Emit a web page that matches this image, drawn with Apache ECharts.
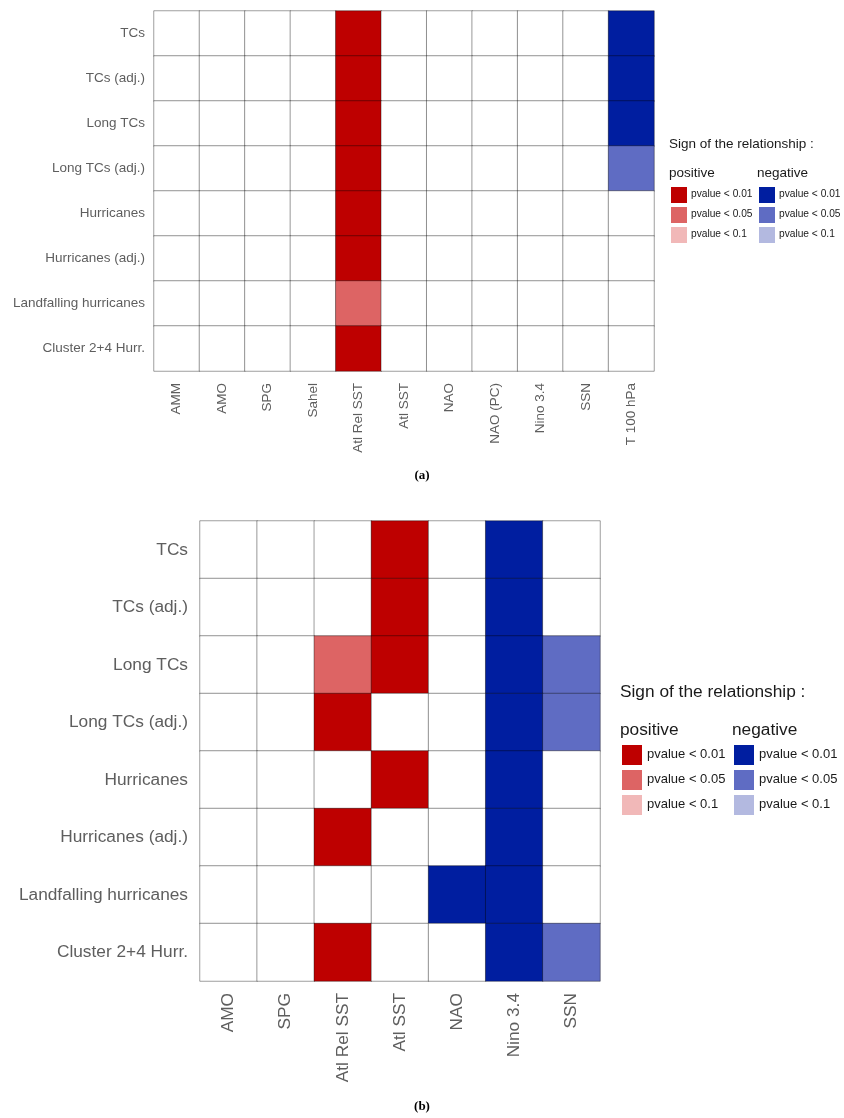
<!DOCTYPE html>
<html><head><meta charset="utf-8">
<script src="https://cdn.jsdelivr.net/npm/echarts@6/dist/echarts.min.js"></script>
<style>html,body{margin:0;padding:0;background:#fff}#c{width:844px;height:1118px}</style>
</head><body><div id="c"></div>
<script>
// codes: 1 = positive p<0.01, 2 = positive p<0.05, 3 = positive p<0.1,
// -1/-2/-3 = negative with same p thresholds, 0 = none
var rows = ["TCs","TCs (adj.)","Long TCs","Long TCs (adj.)","Hurricanes","Hurricanes (adj.)","Landfalling hurricanes","Cluster 2+4 Hurr."];
var colsA = ["AMM","AMO","SPG","Sahel","Atl Rel SST","Atl SST","NAO","NAO (PC)","Nino 3.4","SSN","T 100 hPa"];
var colsB = ["AMO","SPG","Atl Rel SST","Atl SST","NAO","Nino 3.4","SSN"];
// one array per row, values in column order
var valuesA = [
  [0,0,0,0,1,0,0,0,0,0,-1],
  [0,0,0,0,1,0,0,0,0,0,-1],
  [0,0,0,0,1,0,0,0,0,0,-1],
  [0,0,0,0,1,0,0,0,0,0,-2],
  [0,0,0,0,1,0,0,0,0,0,0],
  [0,0,0,0,1,0,0,0,0,0,0],
  [0,0,0,0,2,0,0,0,0,0,0],
  [0,0,0,0,1,0,0,0,0,0,0]
];
var valuesB = [
  [0,0,0,1,0,-1,0],
  [0,0,0,1,0,-1,0],
  [0,0,2,1,0,-1,-2],
  [0,0,1,0,0,-1,-2],
  [0,0,0,1,0,-1,0],
  [0,0,1,0,0,-1,0],
  [0,0,0,0,-1,-1,0],
  [0,0,1,0,0,-1,-2]
];
var legendLabels = ["pvalue < 0.01","pvalue < 0.05","pvalue < 0.1"];
var posColors = ["#BE0000","#DD6464","#F1B8B8"];
var negColors = ["#001EA0","#5F6CC3","#B3B9E0"];

function toData(vals){
  var d=[];
  vals.forEach(function(r,i){ r.forEach(function(v,j){ d.push([j,i,v]); }); });
  return d;
}
var pieces = [{value:0,color:"#ffffff"}];
for (var k=0;k<3;k++){ pieces.push({value:k+1,color:posColors[k]}); pieces.push({value:-(k+1),color:negColors[k]}); }

var FONT = "Liberation Sans, Arial, sans-serif";

function legendGraphic(x, y, s){
  var g = [];
  g.push({type:'text', left:x, top:y, style:{text:"Sign of the relationship :", font: s.title+"px "+FONT, fill:"#1a1a1a"}});
  g.push({type:'text', left:x, top:y+s.headDy, style:{text:"positive", font: s.head+"px "+FONT, fill:"#1a1a1a"}});
  g.push({type:'text', left:x+s.colDx, top:y+s.headDy, style:{text:"negative", font: s.head+"px "+FONT, fill:"#1a1a1a"}});
  for (var i=0;i<3;i++){
    var yy = y + s.boxDy + i*s.step;
    g.push({type:'rect', left:x+s.boxOff, top:yy, shape:{width:s.box,height:s.box}, style:{fill:posColors[i]}});
    g.push({type:'text', left:x+s.boxOff+s.box+s.txtGap, top:yy+(s.box-s.lab)/2-1, style:{text:legendLabels[i], font: s.lab+"px "+FONT, fill:"#1a1a1a"}});
    g.push({type:'rect', left:x+s.colDx+s.boxOff, top:yy, shape:{width:s.box,height:s.box}, style:{fill:negColors[i]}});
    g.push({type:'text', left:x+s.colDx+s.boxOff+s.box+s.txtGap, top:yy+(s.box-s.lab)/2-1, style:{text:legendLabels[i], font: s.lab+"px "+FONT, fill:"#1a1a1a"}});
  }
  return g;
}

var graphics = []
  .concat(legendGraphic(669, 137, {title:13.5, head:13.5, headDy:29, colDx:88, boxOff:2, box:16, boxDy:50, step:20, lab:10.2, txtGap:4}))
  .concat(legendGraphic(620, 684, {title:17.3, head:17.3, headDy:38, colDx:112, boxOff:2, box:20, boxDy:61, step:25, lab:13, txtGap:5}));
graphics.push({type:'text', left:'center', top:469, style:{text:"(a)", font:"bold 13px Liberation Serif, DejaVu Serif, serif", fill:"#000"}});
graphics.push({type:'text', left:'center', top:1100, style:{text:"(b)", font:"bold 13px Liberation Serif, DejaVu Serif, serif", fill:"#000"}});

function xAx(idx, cats, fs, margin){
  return {type:'category', gridIndex:idx, data:cats, position:'bottom',
    axisLine:{show:false}, axisTick:{show:false},
    axisLabel:{rotate:90, fontSize:fs, color:"#5e5e5e", fontFamily:FONT, margin:margin, interval:0},
    splitLine:{show:false}};
}
function yAx(idx, fs, margin){
  return {type:'category', gridIndex:idx, data:rows, inverse:true,
    axisLine:{show:false}, axisTick:{show:false},
    axisLabel:{fontSize:fs, color:"#5e5e5e", fontFamily:FONT, margin:margin, interval:0},
    splitLine:{show:false}};
}

var chart = echarts.init(document.getElementById('c'), null, {renderer:'canvas'});
chart.setOption({
  animation:false,
  backgroundColor:'#fff',
  grid:[
    {left:154, top:11, width:500, height:360},
    {left:200, top:521, width:400, height:460}
  ],
  xAxis:[xAx(0, colsA, 13.5, 12), xAx(1, colsB, 17.3, 12)],
  yAxis:[yAx(0, 13.5, 9), yAx(1, 17.3, 12)],
  visualMap:[
    {type:'piecewise', show:false, seriesIndex:0, dimension:2, pieces:pieces},
    {type:'piecewise', show:false, seriesIndex:1, dimension:2, pieces:pieces}
  ],
  series:[
    {type:'heatmap', xAxisIndex:0, yAxisIndex:0, data:toData(valuesA),
      itemStyle:{borderColor:'rgba(0,0,0,0.55)', borderWidth:0.7}, emphasis:{disabled:true}},
    {type:'heatmap', xAxisIndex:1, yAxisIndex:1, data:toData(valuesB),
      itemStyle:{borderColor:'rgba(0,0,0,0.55)', borderWidth:0.7}, emphasis:{disabled:true}}
  ],
  graphic:graphics
});
</script></body></html>
